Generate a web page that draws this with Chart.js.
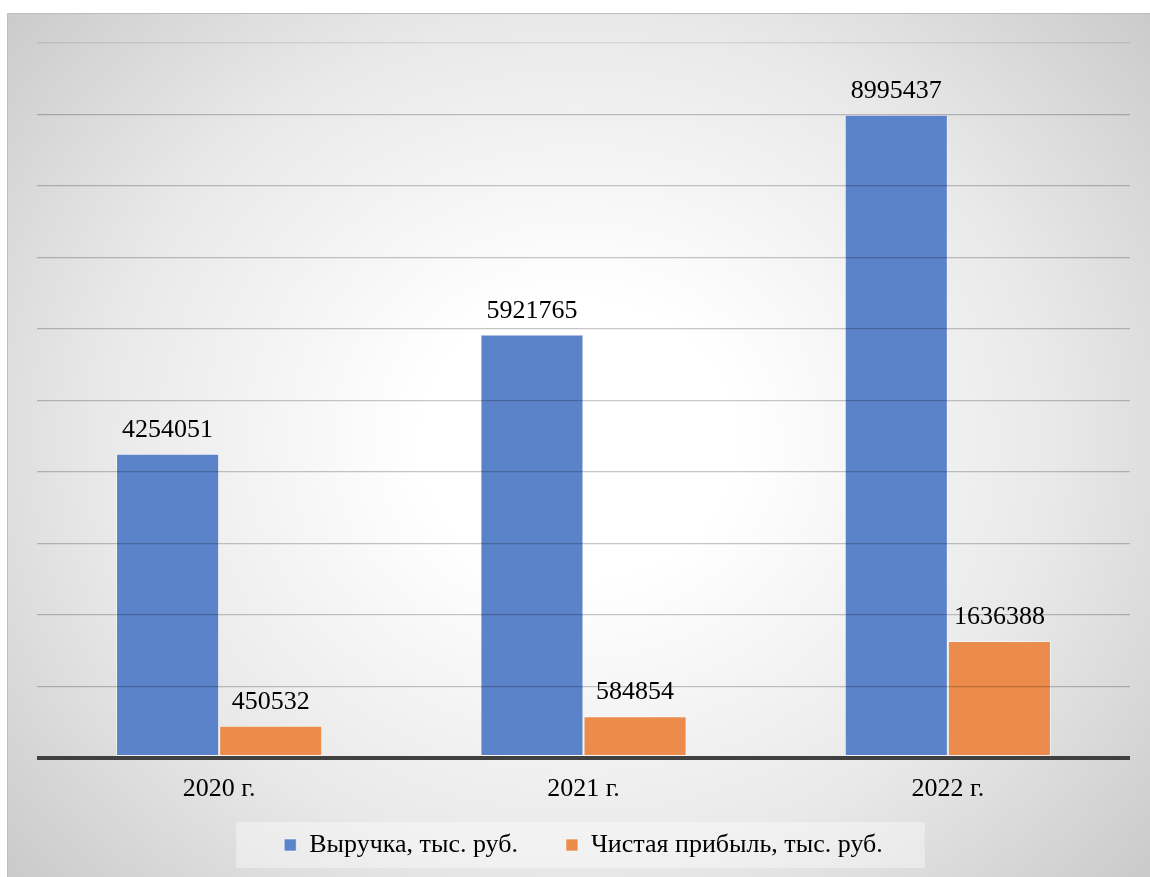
<!DOCTYPE html>
<html><head><meta charset="utf-8">
<script src="https://cdn.jsdelivr.net/npm/chart.js@4/dist/chart.umd.min.js"></script>
<style>html,body{margin:0;padding:0;background:#fff;}</style>
</head><body>
<canvas id="c" width="1150" height="877"></canvas>
<script>
const categories = ['2020 г.', '2021 г.', '2022 г.'];
const revenue = [4254051, 5921765, 8995437];
const netProfit = [450532, 584854, 1636388];
const seriesNames = ['Выручка, тыс. руб.', 'Чистая прибыль, тыс. руб.'];
const yMin = 0, yMax = 10000000, yStep = 1000000;

const SERIF = "'Liberation Serif', 'Times New Roman', serif";

const bgPlugin = {
  id: 'bg',
  afterLayout(chart) {
    // pull the legend up so its text sits just below the category labels
    const lg = chart.legend;
    if (lg) {
      const target = chart.chartArea.bottom + 26;
      const dy = lg.top - target;
      lg.top -= dy;
      lg.bottom -= dy;
    }
  },
  beforeDraw(chart) {
    const ctx = chart.ctx;
    ctx.save();
    const px = 7, py = 13, pw = 1150 - 7, ph = 877 - 13;
    ctx.fillStyle = '#bdbdbd';
    ctx.fillRect(px, py, pw, ph);
    ctx.save();
    ctx.beginPath();
    ctx.rect(px + 1, py + 1, pw - 1, ph - 1);
    ctx.clip();
    const cx = 578, cy = 440, rx = 790, ry = 700;
    ctx.translate(cx, cy);
    ctx.scale(1, ry / rx);
    const g = ctx.createRadialGradient(0, 0, 0, 0, 0, rx);
    g.addColorStop(0, '#ffffff');
    g.addColorStop(0.2, '#ffffff');
    g.addColorStop(0.6, '#e9e9e9');
    g.addColorStop(0.75, '#dcdcdc');
    g.addColorStop(1, '#c6c6c6');
    ctx.fillStyle = g;
    ctx.fillRect(-rx * 2, -rx * 2, rx * 4, rx * 4);
    ctx.restore();
    const lg = chart.legend;
    if (lg && lg.legendHitBoxes && lg.legendHitBoxes.length) {
      const hb = lg.legendHitBoxes;
      const first = hb[0], last = hb[hb.length - 1];
      const l = first.left - 48, r = last.left + last.width + 42;
      const t = first.top - 10, b = first.top + first.height + 10;
      ctx.fillStyle = 'rgba(255,255,255,0.38)';
      ctx.fillRect(l, t, r - l, b - t);
    }
    ctx.restore();
  }
};

const labelPlugin = {
  id: 'valueLabels',
  afterDatasetsDraw(chart) {
    const ctx = chart.ctx;
    ctx.save();
    ctx.font = '26px ' + SERIF;
    ctx.fillStyle = '#000';
    ctx.textAlign = 'center';
    ctx.textBaseline = 'alphabetic';
    chart.data.datasets.forEach((ds, di) => {
      const meta = chart.getDatasetMeta(di);
      meta.data.forEach((bar, i) => {
        ctx.fillText(String(ds.data[i]), bar.x, bar.y - 17);
      });
    });
    ctx.restore();
  }
};

new Chart(document.getElementById('c'), {
  type: 'bar',
  data: {
    labels: categories,
    datasets: [
      { label: seriesNames[0], data: revenue, backgroundColor: '#5b83ca', borderColor: 'rgba(255,255,255,0.55)', borderWidth: 1, borderSkipped: false },
      { label: seriesNames[1], data: netProfit, backgroundColor: '#ec8c4c', borderColor: 'rgba(255,255,255,0.55)', borderWidth: 1, borderSkipped: false }
    ]
  },
  options: {
    responsive: false,
    animation: false,
    devicePixelRatio: 1,
    layout: { padding: { left: 37, right: 20, top: 43, bottom: -12 } },
    datasets: { bar: { barPercentage: 1, categoryPercentage: 0.566 } },
    plugins: {
      legend: {
        position: 'bottom',
        labels: {
          font: { family: SERIF, size: 26 },
          color: '#000',
          boxWidth: 12,
          boxHeight: 12,
          padding: 48
        }
      },
      tooltip: { enabled: false }
    },
    scales: {
      x: {
        grid: { display: false, drawTicks: false },
        border: { display: false },
        ticks: { font: { family: SERIF, size: 26 }, color: '#000', padding: 16 },
        afterFit(scale) { scale.height = 47; }
      },
      y: {
        min: yMin, max: yMax,
        ticks: { display: false, stepSize: yStep },
        border: { display: false },
        grid: {
          z: 1,
          drawTicks: false,
          color: (c) => {
            if (!c.tick) return 'rgba(0,0,0,0.22)';
            if (c.tick.value === 0) return '#404040';
            if (c.tick.value === yMax) return 'rgba(0,0,0,0.1)';
            return 'rgba(0,0,0,0.22)';
          },
          lineWidth: (c) => c.tick && c.tick.value === 0 ? 4 : 1.2
        },
        afterFit(scale) { scale.width = 0; }
      }
    }
  },
  plugins: [bgPlugin, labelPlugin]
});
</script>
</body></html>
